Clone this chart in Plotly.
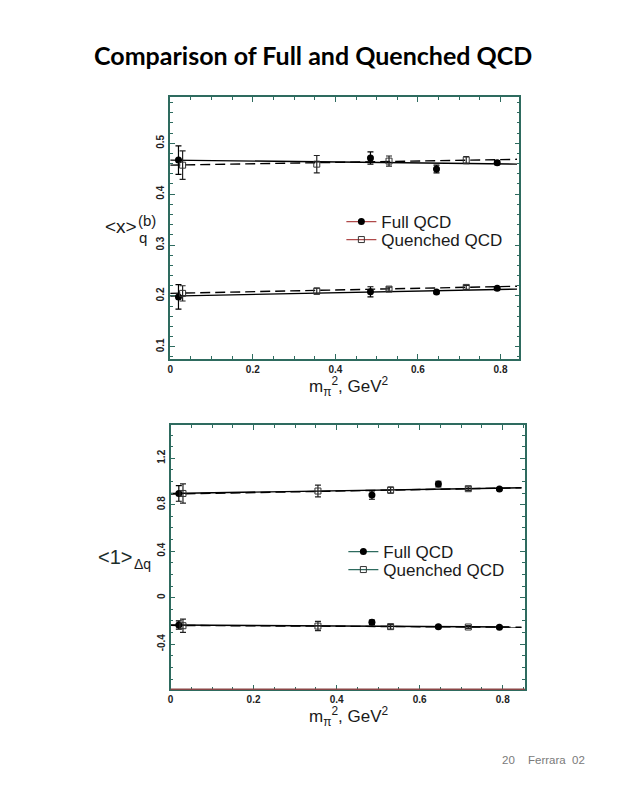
import plotly.graph_objects as go

# ---------------- data ----------------
x_full = [0.02, 0.485, 0.645, 0.792]
x_quen = [0.03, 0.355, 0.53, 0.717]

# top panel: <x>_q^(b)
top_full_upper = [0.467, 0.471, 0.4495, 0.462]
top_full_upper_err = [0.028, 0.012, 0.0075, 0.004]
top_quen_upper = [0.457, 0.459, 0.465, 0.467]
top_quen_upper_err = [0.028, 0.017, 0.010, 0.007]
top_full_lower = [0.198, 0.208, 0.2075, 0.215]
top_full_lower_err = [0.024, 0.010, 0.003, 0.003]
top_quen_lower = [0.205, 0.2095, 0.2134, 0.2167]
top_quen_lower_err = [0.015, 0.006, 0.004, 0.004]

top_fit_x = [0.0, 0.84]
top_fit_full_upper = [0.467, 0.459]
top_fit_quen_upper = [0.457, 0.4685]
top_fit_full_lower = [0.1996, 0.2134]
top_fit_quen_lower = [0.205, 0.219]

# bottom panel: <1>_Δq
bot_full_upper = [0.897, 0.883, 0.978, 0.935]
bot_full_upper_err = [0.067, 0.036, 0.024, 0.010]
bot_quen_upper = [0.897, 0.918, 0.926, 0.938]
bot_quen_upper_err = [0.083, 0.050, 0.026, 0.015]
bot_full_lower = [-0.235, -0.212, -0.249, -0.255]
bot_full_lower_err = [0.035, 0.020, 0.012, 0.010]
bot_quen_lower = [-0.241, -0.244, -0.249, -0.252]
bot_quen_lower_err = [0.057, 0.040, 0.020, 0.012]

bot_fit_x = [0.0, 0.845]
bot_fit_full_upper = [0.897, 0.946]
bot_fit_quen_upper = [0.892, 0.946]
bot_fit_full_lower = [-0.235, -0.252]
bot_fit_quen_lower = [-0.238, -0.254]

x_tickvals = [0, 0.2, 0.4, 0.6, 0.8]
x_ticktext = ["0", "0.2", "0.4", "0.6", "0.8"]
top_y_tickvals = [0.1, 0.2, 0.3, 0.4, 0.5]
top_y_ticktext = ["0.1", "0.2", "0.3", "0.4", "0.5"]
bot_y_tickvals = [-0.4, 0, 0.4, 0.8, 1.2]
bot_y_ticktext = ["-0.4", "0", "0.4", "0.8", "1.2"]

legend_names = ["Full QCD", "Quenched QCD"]

# ---------------- styling ----------------
PAGE_MARGIN = 8          # default body margin of the html page
W, H = 619 - PAGE_MARGIN, 800 - PAGE_MARGIN
FRAME = "#2e6b5f"
RED = "#8a4646"
FONT = "Liberation Sans"


def px_x(p):
    return (p - PAGE_MARGIN) / W


def px_y(p):
    return 1 - (p - PAGE_MARGIN) / H


fig = go.Figure()


def add_points(x, y, err, full, xa, ya):
    if full:
        marker = dict(symbol="circle", size=7, color="black")
        ecol = "black"
    else:
        marker = dict(symbol="square-open", size=6, color="#333333",
                      line=dict(width=1, color="#333333"))
        ecol = "#222222"
    fig.add_trace(go.Scatter(
        x=x, y=y, mode="markers", marker=marker, showlegend=False,
        error_y=dict(type="data", array=err, visible=True, thickness=1.2,
                     width=3, color=ecol),
        xaxis=xa, yaxis=ya, hoverinfo="skip"))


def add_fit(x, y, full, xa, ya):
    fig.add_trace(go.Scatter(
        x=x, y=y, mode="lines", showlegend=False,
        line=dict(color="black", width=1.4, dash="solid" if full else "10px,5px"),
        xaxis=xa, yaxis=ya, hoverinfo="skip"))


# top panel
add_fit(top_fit_x, top_fit_full_upper, True, "x", "y")
add_fit(top_fit_x, top_fit_quen_upper, False, "x", "y")
add_fit(top_fit_x, top_fit_full_lower, True, "x", "y")
add_fit(top_fit_x, top_fit_quen_lower, False, "x", "y")
add_points(x_full, top_full_upper, top_full_upper_err, True, "x", "y")
add_points(x_quen, top_quen_upper, top_quen_upper_err, False, "x", "y")
add_points(x_full, top_full_lower, top_full_lower_err, True, "x", "y")
add_points(x_quen, top_quen_lower, top_quen_lower_err, False, "x", "y")

# bottom panel
add_fit(bot_fit_x, bot_fit_full_upper, True, "x2", "y2")
add_fit(bot_fit_x, bot_fit_quen_upper, False, "x2", "y2")
add_fit(bot_fit_x, bot_fit_full_lower, True, "x2", "y2")
add_fit(bot_fit_x, bot_fit_quen_lower, False, "x2", "y2")
add_points(x_full, bot_full_upper, bot_full_upper_err, True, "x2", "y2")
add_points(x_quen, bot_quen_upper, bot_quen_upper_err, False, "x2", "y2")
add_points(x_full, bot_full_lower, bot_full_lower_err, True, "x2", "y2")
add_points(x_quen, bot_quen_lower, bot_quen_lower_err, False, "x2", "y2")

# legend entries (one legend per entry for exact placement)
legend_specs = [
    ("legend", legend_names[0], True, "#b04a4a", "x", "y"),
    ("legend2", legend_names[1], False, "#b04a4a", "x", "y"),
    ("legend3", legend_names[0], True, FRAME, "x2", "y2"),
    ("legend4", legend_names[1], False, FRAME, "x2", "y2"),
]
for leg, name, full, lcol, xa, ya in legend_specs:
    if full:
        mk = dict(symbol="circle", size=7, color="black")
    else:
        mk = dict(symbol="square-open", size=6, color="#333333")
    fig.add_trace(go.Scatter(
        x=[None], y=[None], mode="lines+markers", name=name,
        line=dict(color=lcol, width=1.3), marker=mk,
        legend=leg, xaxis=xa, yaxis=ya))

tickfont = dict(family=FONT, size=10, color="#222222", weight="bold")


def xaxis_cfg(domain, anchor, rng):
    return dict(
        domain=domain, anchor=anchor, range=rng,
        tickmode="array", tickvals=x_tickvals, ticktext=x_ticktext,
        ticks="inside", ticklen=5, tickwidth=1, tickcolor=FRAME,
        showline=True, linecolor=FRAME, linewidth=1.5, mirror="ticks",
        showgrid=False, zeroline=False, tickfont=tickfont,
        minor=dict(tickmode="linear", tick0=0, dtick=0.05, ticks="inside",
                   ticklen=3, tickwidth=1, tickcolor=FRAME, showgrid=False),
    )


def yaxis_cfg(domain, anchor, rng, tv, tt, mdt):
    return dict(
        domain=domain, anchor=anchor, range=rng,
        tickmode="array", tickvals=tv, ticktext=tt, tickangle=-90,
        ticks="inside", ticklen=5, tickwidth=1, tickcolor=FRAME,
        showline=True, linecolor=FRAME, linewidth=1.5, mirror="ticks",
        showgrid=False, zeroline=False, tickfont=tickfont,
        minor=dict(tickmode="linear", tick0=0, dtick=mdt, ticks="inside",
                   ticklen=3, tickwidth=1, tickcolor=FRAME, showgrid=False),
    )


legend_font = dict(family=FONT, size=17, color="#1a1a1a")


def legend_cfg(left_px, top_px):
    return dict(x=px_x(left_px), y=px_y(top_px), xanchor="left", yanchor="top",
                bgcolor="rgba(0,0,0,0)", font=legend_font, tracegroupgap=0,
                itemwidth=30)


annotations = [
    dict(text="<b>Comparison of Full and Quenched QCD</b>", x=px_x(311), y=px_y(55),
         font=dict(family="Lato", size=25, color="black")),
    # y-axis label top
    dict(text="&lt;x&gt;", x=px_x(100), y=px_y(226), xanchor="left",
         font=dict(family=FONT, size=19, color="#1a1a1a")),
    dict(text="(b)", x=px_x(134), y=px_y(220), xanchor="left",
         font=dict(family=FONT, size=15, color="#1a1a1a")),
    dict(text="q", x=px_x(135), y=px_y(237), xanchor="left",
         font=dict(family=FONT, size=15, color="#1a1a1a")),
    # y-axis label bottom
    dict(text="&lt;1&gt;", x=px_x(93), y=px_y(557), xanchor="left",
         font=dict(family=FONT, size=20, color="#1c2e2b")),
    dict(text="Δq", x=px_x(130), y=px_y(564), xanchor="left",
         font=dict(family=FONT, size=14, color="#1a1a1a")),
    # x titles
    dict(text="m<sub>π</sub><sup>2</sup>, GeV<sup>2</sup>", x=px_x(347), y=px_y(386),
         font=dict(family=FONT, size=17, color="#1a1a1a")),
    dict(text="m<sub>π</sub><sup>2</sup>, GeV<sup>2</sup>", x=px_x(347), y=px_y(716),
         font=dict(family=FONT, size=17, color="#1a1a1a")),
    # footer
    dict(text="20", x=px_x(508), y=px_y(760),
         font=dict(family=FONT, size=11.5, color="#7a7a7a")),
    dict(text="Ferrara", x=px_x(546.5), y=px_y(760),
         font=dict(family=FONT, size=11.5, color="#7a7a7a")),
    dict(text="02", x=px_x(578), y=px_y(760),
         font=dict(family=FONT, size=11.5, color="#7a7a7a")),
]
for a in annotations:
    a.update(xref="paper", yref="paper", showarrow=False)
    a.setdefault("xanchor", "center")
    a.setdefault("yanchor", "middle")

# reddish bottom frame line of the lower panel
shapes = [dict(type="line", xref="x2 domain", yref="y2 domain", x0=0, x1=1, y0=0, y1=0,
               line=dict(color=RED, width=1.5), layer="above")]

fig.update_layout(
    width=W, height=H, margin=dict(l=0, r=0, t=0, b=0),
    paper_bgcolor="white", plot_bgcolor="white",
    showlegend=True,
    xaxis=xaxis_cfg([px_x(168), px_x(519)], "y", [0, 0.846]),
    yaxis=yaxis_cfg([px_y(359), px_y(97)], "x", [0.076, 0.591],
                    top_y_tickvals, top_y_ticktext, 0.02),
    xaxis2=xaxis_cfg([px_x(168.3), px_x(524.3)], "y2", [0, 0.853]),
    yaxis2=yaxis_cfg([px_y(689.3), px_y(425)], "x2", [-0.788, 1.486],
                     bot_y_tickvals, bot_y_ticktext, 0.1),
    legend=legend_cfg(340, 204),
    legend2=legend_cfg(340, 222),
    legend3=legend_cfg(342, 534),
    legend4=legend_cfg(342, 552),
    annotations=annotations,
    shapes=shapes,
)

fig.write_html("out.html")
